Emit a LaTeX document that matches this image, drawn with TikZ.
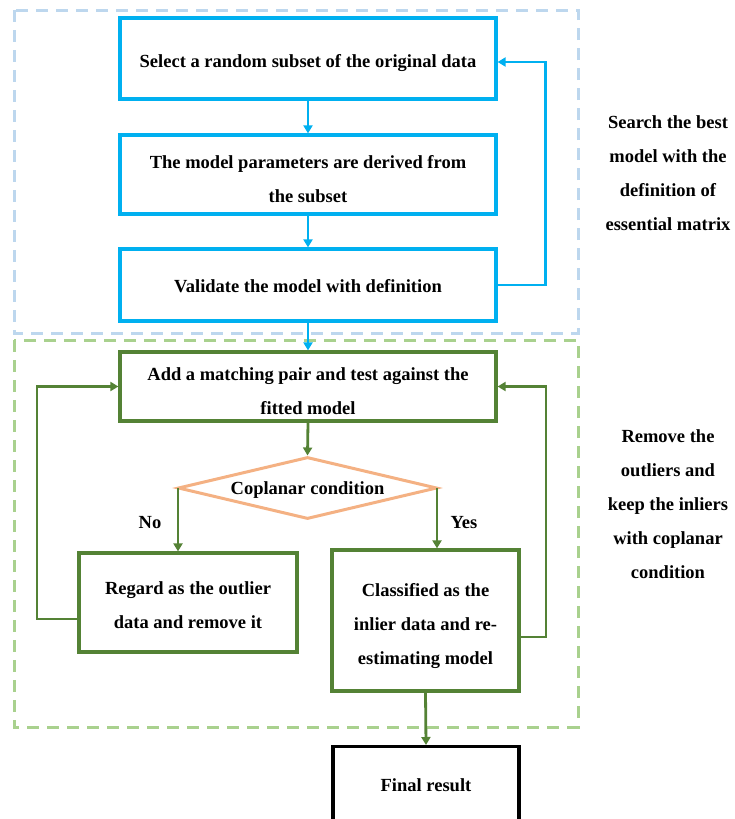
\documentclass[tikz,border=0pt]{standalone}
\usepackage{fontspec}
\setmainfont{Liberation Serif}
\usetikzlibrary{arrows.meta,shapes.geometric}
\definecolor{cblue}{HTML}{00B0F0}
\definecolor{lblue}{HTML}{BDD7EE}
\definecolor{cgreen}{HTML}{548235}
\definecolor{lgreen}{HTML}{A9D18E}
\definecolor{corange}{HTML}{F4B183}
\begin{document}
\begin{tikzpicture}[x=1pt,y=-1pt,
  txt/.style={font=\fontsize{18.5}{34}\selectfont\bfseries, align=center},
  bbox/.style={draw=cblue, line width=3.2pt},
  gbox/.style={draw=cgreen, line width=3.2pt},
  barrow/.style={draw=cblue, line width=2.8pt, -{Triangle[width=9pt,length=8pt]}},
  garrow/.style={draw=cgreen, line width=2.8pt, -{Triangle[width=9pt,length=8pt]}},
  dashbox/.style={line width=3pt, dash pattern=on 12pt off 8pt},
  side/.style={txt}
]
\useasboundingbox (0,0) rectangle (734,819);
\clip (0,0) rectangle (734,819);
% dashed regions
\draw[dashbox, draw=lblue] (14,10) rectangle (578,333);
\draw[dashbox, draw=lgreen] (14,340) rectangle (578,727);
% blue boxes
\node[bbox, minimum width=376pt, minimum height=81pt] (b1) at (308,58.5) {};
\node[txt] (b1t) at (308,63.5) {Select a random subset of the original data};
\node[bbox, minimum width=376pt, minimum height=79pt] (b2) at (308,174.5) {};
\node[txt] (b2t) at (308,179.5) {The model parameters are derived from\\the subset};
\node[bbox, minimum width=376pt, minimum height=72pt] (b3) at (308,285) {};
\node[txt] (b3t) at (308,286) {Validate the model with definition};
% green boxes
\node[gbox, minimum width=376pt, minimum height=69pt] (g1) at (308,386.5) {};
\node[txt] (g1t) at (308,391) {Add a matching pair and test against the\\fitted model};
\node[draw=corange, line width=3pt, diamond, aspect=4.18, minimum width=259pt, minimum height=62pt, inner sep=0pt] (d) at (307.5,488) {};
\node[txt] (dt) at (307.5,490) {Coplanar condition};
\node[gbox, minimum width=218pt, minimum height=99pt] (g2) at (188,602.5) {};
\node[txt] (g2t) at (188,605.5) {Regard as the outlier\\data and remove it};
\node[gbox, minimum width=187pt, minimum height=141pt] (g3) at (425.5,620.5) {};
\node[txt] (g3t) at (425.5,626.5) {Classified as the\\inlier data and re-\\estimating model};
\node[draw=black, line width=3.2pt, minimum width=186pt, minimum height=120pt, anchor=north] (f) at (426,745) {};
\node[txt] (ft) at (426,785) {Final result};
% side labels
\node[side] (s1) at (668,173) {Search the best\\model with the\\definition of\\essential matrix};
\node[side] (s2) at (668,504.5) {Remove the\\outliers and\\keep the inliers\\with coplanar\\condition};
% labels
\node[txt] (no) at (150,523) {No};
\node[txt] (yes) at (464,523) {Yes};
% coordinates
\coordinate (dl) at (178,488);
\coordinate (dr) at (437,488);
% arrows
\draw[barrow] (b1.south) -- (b2.north);
\draw[barrow] (b2.south) -- (b3.north);
\draw[barrow] (b3.south) -- (g1.north);
\draw[barrow] (b3.east) -- ++(48,0) |- (b1.east |- 0,62);
\draw[garrow] (g1.south) -- (d.north);
\draw[garrow] (dl) -- (dl |- g2.north);
\draw[garrow] (dr) -- (dr |- g3.north);
\draw[garrow] (g2.west |- 0,619) -- (37,619) |- (g1.west);
\draw[garrow] (g3.east |- 0,637) -- (546,637) |- (g1.east);
\draw[garrow] (g3.south) -- (f.north);
\end{tikzpicture}
\end{document}
